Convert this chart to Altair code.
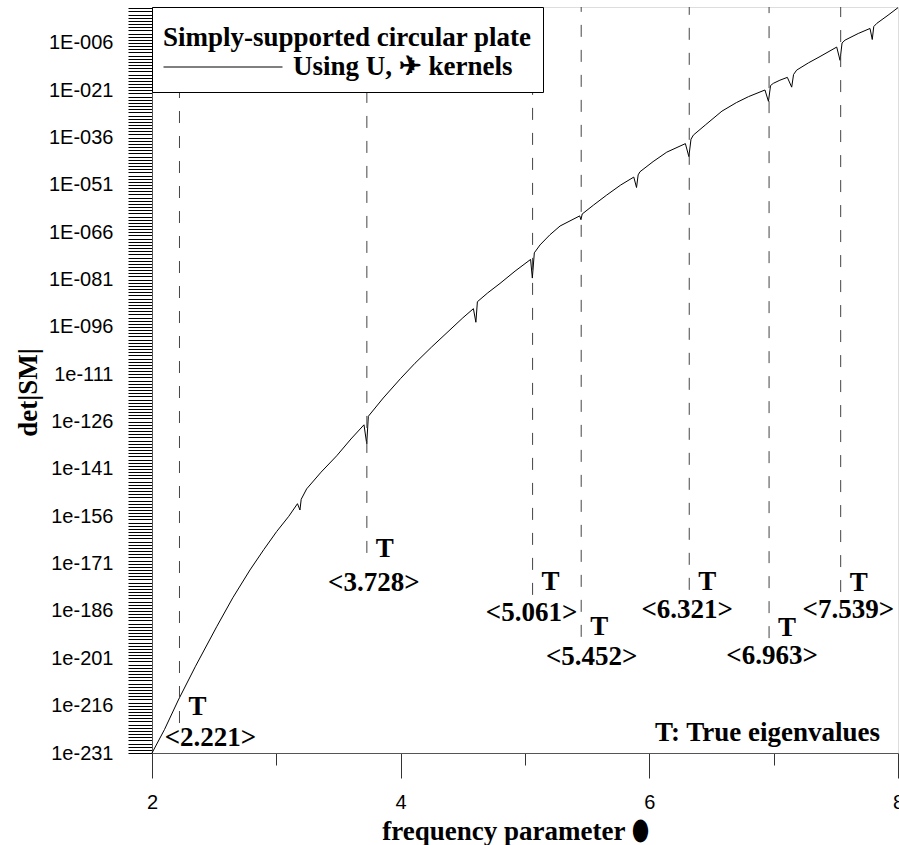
import altair as alt
import pandas as pd

# ---- curve: frequency parameter vs log10 det|SM| ----
freq = [2.00, 2.10, 2.212, 2.35, 2.52, 2.65, 2.788, 2.90, 3.003, 3.10, 3.170, 3.190, 3.200,
        3.244, 3.36, 3.486, 3.60, 3.705, 3.727, 3.740, 3.860, 4.00, 4.115, 4.25, 4.397,
        4.50, 4.585, 4.605, 4.617, 4.70, 4.799, 4.92, 5.045, 5.059, 5.075, 5.121, 5.20,
        5.282, 5.440, 5.450, 5.46, 5.55, 5.657, 5.77, 5.875, 5.897, 5.91, 5.925, 6.03,
        6.140, 6.290, 6.318, 6.335, 6.354, 6.45, 6.584, 6.70, 6.798, 6.930, 6.958, 6.975,
        6.997, 7.05, 7.110, 7.145, 7.16, 7.185, 7.28, 7.373, 7.507, 7.534, 7.550, 7.574,
        7.68, 7.775, 7.793, 7.805, 7.829, 7.92, 8.00]
logdet = [-231.0, -223.6, -214.2, -203.5, -191.0, -181.8, -173.0, -166.5, -160.8, -156.0,
          -152.0, -154.0, -150.6, -147.3, -142.0, -136.8, -131.5, -127.0, -133.0, -124.3,
          -118.5, -112.3, -107.5, -102.3, -96.9, -93.1, -90.2, -94.5, -88.0, -85.2, -82.2,
          -78.3, -74.6, -80.5, -72.5, -70.0, -66.8, -64.0, -60.8, -62.0, -60.2, -57.4,
          -54.2, -51.0, -48.5, -51.8, -47.8, -46.8, -43.6, -40.6, -37.9, -42.0, -36.5,
          -35.2, -32.0, -27.6, -24.9, -23.0, -20.9, -24.5, -19.5, -18.8, -17.8, -16.9,
          -20.0, -16.0, -14.6, -12.3, -10.3, -7.3, -11.5, -6.0, -5.1, -3.0, -1.4, -4.9,
          -0.8, 0.2, 2.8, 5.2]
series_name = "Using U, \u2708  kernels"
legend_title = "Simply-supported circular plate"

# ---- true eigenvalues ----
eig_x = [2.221, 3.728, 5.061, 5.452, 6.321, 6.963, 7.539]
eig_text = ["<2.221>", "<3.728>", "<5.061>", "<5.452>", "<6.321>", "<6.963>", "<7.539>"]
dash_bottom = [-221.5, -167.6, -180.9, -194.2, -179.3, -194.6, -180.0]
t_y = [-216.3, -166.4, -176.7, -191.2, -176.7, -191.5, -177.0]
label_x = [2.470, 3.784, 5.053, 5.536, 6.305, 6.987, 7.600]
label_y = [-226.2, -177.2, -186.7, -200.5, -185.7, -200.2, -185.7]
note_text = ["T: True eigenvalues"]
note_x = [7.855]
note_y = [-224.7]

# ---- axes ----
Y_MIN, Y_MAX = -231, 5.4
X_MIN, X_MAX = 2, 8
ytick_exps = list(range(-231, 6))
ylabel_exps = [-231, -216, -201, -186, -171, -156, -141, -126, -111,
               -96, -81, -66, -51, -36, -21, -6]
ylabel_text = ["1e-231", "1e-216", "1e-201", "1e-186", "1e-171", "1e-156", "1e-141",
               "1e-126", "1e-111", "1E-096", "1E-081", "1E-066", "1E-051", "1E-036",
               "1E-021", "1E-006"]
xtick_vals = [2, 3, 4, 5, 6, 7, 8]
xlabel_vals = [2, 4, 6, 8]
xlabel_text = ["2", "4", "6", "8"]

ylabel_expr = "".join(f"datum.value == {v} ? '{t}' : " for v, t in zip(ylabel_exps, ylabel_text)) + "''"
xlabel_expr = "".join(f"datum.value == {v} ? '{t}' : " for v, t in zip(xlabel_vals, xlabel_text)) + "''"

SERIF = "Liberation Serif"
SANS = "Liberation Sans"

curve_df = pd.DataFrame({"freq": freq, "logdet": logdet, "series": series_name})
eig_df = pd.DataFrame({"x": eig_x, "yb": dash_bottom, "ty": t_y, "lx": label_x,
                       "ly": label_y, "txt": eig_text, "T": "T"})
note_df = pd.DataFrame({"x": note_x, "y": note_y, "txt": note_text})

xscale = alt.Scale(domain=[X_MIN, X_MAX], nice=False, zero=False)
yscale = alt.Scale(domain=[Y_MIN, Y_MAX], nice=False, zero=False)

xaxis = alt.Axis(
    values=xtick_vals, labelExpr=xlabel_expr, labelFlush=False, labelOverlap=False,
    tickSize={"condition": {"test": "datum.value % 2 == 0", "value": 25}, "value": 12},
    tickColor="#333", domainColor="#555", grid=False,
    labelFont=SANS, labelFontSize=20, labelColor="black", labelPadding=14,
    title="frequency parameter \u2b2e", titleFont=SERIF, titleFontWeight="bold",
    titleFontSize=27, titleColor="black", titleX=363, titleY=78,
    titleAlign="center", titleBaseline="middle",
)
yaxis = alt.Axis(
    values=ytick_exps, labelExpr=ylabel_expr, labelOverlap=False, labelFlush=False,
    tickSize=24, tickColor="black", tickWidth=1, domainColor="#555", grid=False,
    labelFont=SANS, labelFontSize=20, labelColor="black", labelPadding=15,
    title="det|SM|", titleFont=SERIF, titleFontWeight="bold", titleFontSize=27,
    titleColor="black", titleX=-124, titleY=385, titleAngle=270,
    titleAlign="center", titleBaseline="middle",
)

line = alt.Chart(curve_df).mark_line(strokeWidth=1).encode(
    x=alt.X("freq:Q", scale=xscale, axis=xaxis),
    y=alt.Y("logdet:Q", scale=yscale, axis=yaxis),
    color=alt.Color("series:N", scale=alt.Scale(range=["black"]), legend=alt.Legend(
        title=legend_title, orient="none", legendX=0, legendY=0,
        titleFont=SERIF, titleFontWeight="bold", titleFontSize=27, titleColor="black",
        titleLimit=600, titleBaseline="line-top", titleLineHeight=40, titlePadding=8,
        labelFont=SERIF, labelFontWeight="bold", labelFontSize=27, labelColor="black",
        labelLimit=600, labelOffset=10, labelBaseline="middle",
        symbolType="stroke", symbolSize=14161, symbolStrokeWidth=1,
        symbolStrokeColor="black", clipHeight=28,
        padding=11, strokeColor="black", fillColor="white", cornerRadius=0,
    )),
)

rules = alt.Chart(eig_df).mark_rule(color="#444", strokeWidth=1, strokeDash=[12, 13]).encode(
    x=alt.X("x:Q", scale=xscale, axis=xaxis),
    y=alt.Y("yb:Q", scale=yscale, axis=yaxis),
    y2=alt.datum(Y_MAX),
)

tmarks = alt.Chart(eig_df).mark_text(
    font=SERIF, fontWeight="bold", fontSize=27, color="black",
    align="center", baseline="middle", dx=18,
).encode(x=alt.X("x:Q", scale=xscale, axis=xaxis),
         y=alt.Y("ty:Q", scale=yscale, axis=yaxis), text="T:N")

vlabels = alt.Chart(eig_df).mark_text(
    font=SERIF, fontWeight="bold", fontSize=27, color="black",
    align="center", baseline="middle",
).encode(x=alt.X("lx:Q", scale=xscale, axis=xaxis),
         y=alt.Y("ly:Q", scale=yscale, axis=yaxis), text="txt:N")

note = alt.Chart(note_df).mark_text(
    font=SERIF, fontWeight="bold", fontSize=27, color="black",
    align="right", baseline="middle",
).encode(x=alt.X("x:Q", scale=xscale, axis=xaxis),
         y=alt.Y("y:Q", scale=yscale, axis=yaxis), text="txt:N")

chart = alt.layer(line, rules, tmarks, vlabels, note).properties(
    width=746, height=746,
    autosize=alt.AutoSizeParams(type="none"),
    padding={"left": 152, "top": 7, "right": 1, "bottom": 92},
).configure_view(stroke="#333", strokeWidth=1).configure(background="white")

chart.save("out.html", embed_options={"renderer": "svg", "actions": False})
